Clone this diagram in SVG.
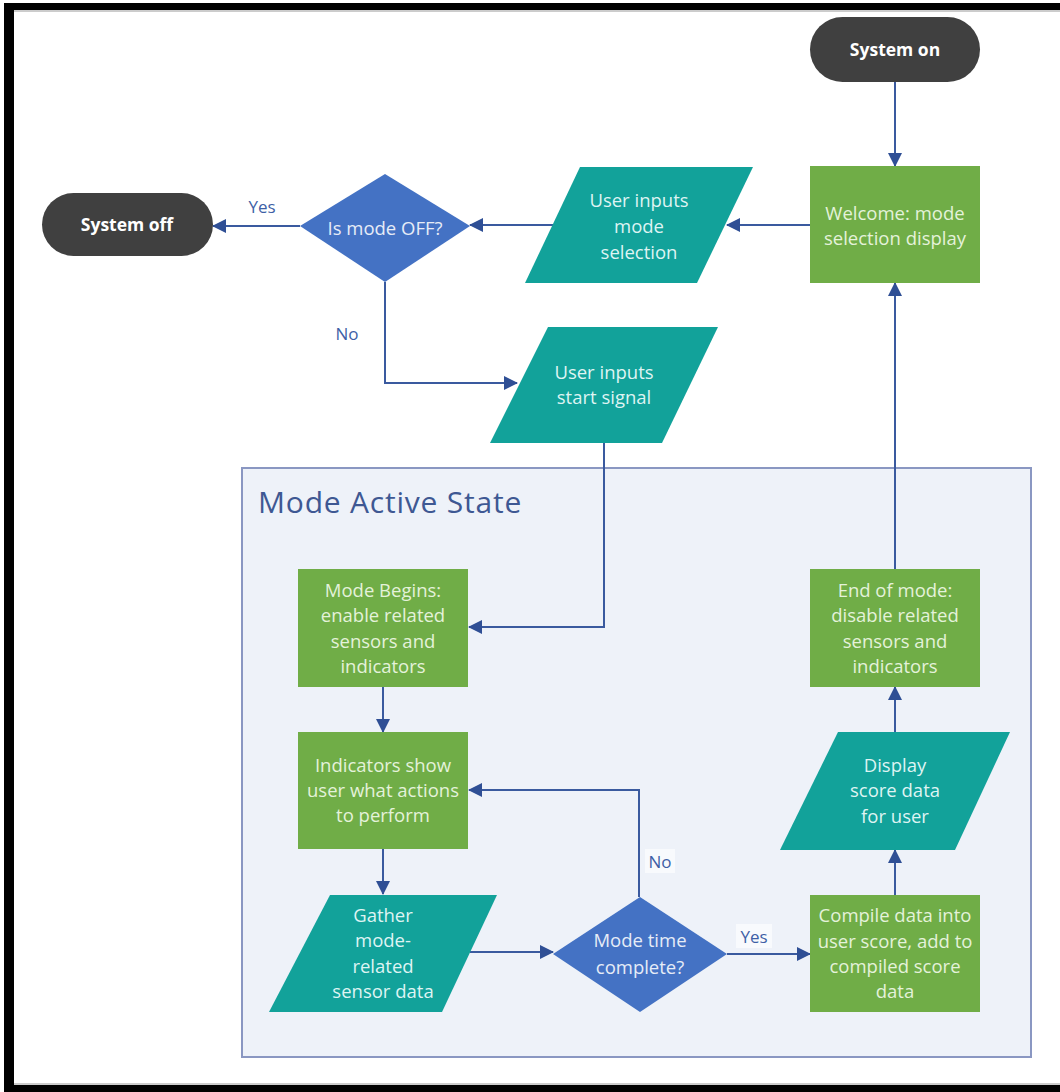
<svg xmlns="http://www.w3.org/2000/svg" width="1060" height="1092" viewBox="0 0 1060 1092">
<style>
  .term{fill:#404040}
  .termt{fill:#ffffff;font-family:"Open Sans","Liberation Sans",sans-serif;font-weight:bold;font-size:17.5px;text-anchor:middle}
  .proc{fill:#70ad47}
  .proct{fill:#e4f2da;font-family:"Open Sans","Liberation Sans",sans-serif;font-size:18.5px;text-anchor:middle}
  .io{fill:#12a29a}
  .iot{fill:#def4f3;font-family:"Open Sans","Liberation Sans",sans-serif;font-size:18.5px;text-anchor:middle}
  .dec{fill:#4472c4}
  .dect{fill:#e6ecf7;font-family:"Open Sans","Liberation Sans",sans-serif;font-size:18.5px;text-anchor:middle}
  .conn{fill:none;stroke:#3a5a9f;stroke-width:2;marker-end:url(#ah)}
  .lbl{fill:#3e5fa6;font-family:"Open Sans","Liberation Sans",sans-serif;font-size:17px;text-anchor:middle}
</style>
<defs>
  <marker id="ah" markerUnits="userSpaceOnUse" markerWidth="14" markerHeight="14" viewBox="0 0 14 14" refX="13" refY="7" orient="auto">
    <path d="M0,0 L14,7 L0,14 Z" fill="#2f4f95"/>
  </marker>
</defs>
<rect x="0" y="0" width="1060" height="1092" fill="#ffffff"/>
<!-- frame -->
<rect x="4" y="3" width="1056" height="7" fill="#000"/>
<rect x="4" y="3" width="10" height="1089" fill="#000"/>
<rect x="4" y="1085" width="1056" height="7" fill="#000"/>
<line x1="14" y1="11" x2="1060" y2="11" stroke="#999" stroke-width="1"/>
<line x1="14" y1="1084" x2="1060" y2="1084" stroke="#999" stroke-width="1"/>

<g id="container">
  <rect x="242" y="468" width="789" height="589" fill="#eef2f9" stroke="#8a97c2" stroke-width="2"/>
  <text x="258" y="513" fill="#3e5893" font-family="Open Sans, Liberation Sans, sans-serif" font-size="30" letter-spacing="0.8">Mode Active State</text>
</g>

<g id="connectors">
  <path class="conn" d="M895,82 V166"/>
  <path class="conn" d="M810,225 H727"/>
  <path class="conn" d="M553,225 H470"/>
  <path class="conn" d="M300,226 H213"/>
  <path class="conn" d="M385,282 V383 H517"/>
  <path class="conn" d="M604,443 V627 H469"/>
  <path class="conn" d="M383,687 V732"/>
  <path class="conn" d="M383,849 V894"/>
  <path class="conn" d="M470,952 H553"/>
  <path class="conn" d="M639,897 V790 H469"/>
  <path class="conn" d="M727,954 H810"/>
  <path class="conn" d="M895,895 V850"/>
  <path class="conn" d="M895,732 V687"/>
  <path class="conn" d="M895,569 V283"/>
  <text class="lbl" x="262" y="213">Yes</text>
  <text class="lbl" x="347" y="340">No</text>
  <rect x="645" y="849" width="30" height="24" fill="#f8fafd"/>
  <text class="lbl" x="660" y="868">No</text>
  <rect x="736" y="924" width="36" height="24" fill="#f8fafd"/>
  <text class="lbl" x="754" y="943">Yes</text>
</g>

<g id="system-on">
  <rect class="term" x="810" y="17" width="170" height="65" rx="32.5"/>
  <text class="termt" x="895" y="56">System on</text>
</g>
<g id="welcome">
  <rect class="proc" x="810" y="166" width="170" height="117"/>
  <text class="proct" x="895" y="220">Welcome: mode</text>
  <text class="proct" x="895" y="245">selection display</text>
</g>
<g id="user-inputs-mode">
  <polygon class="io" points="580,167 753,167 697,283 525,283"/>
  <text class="iot" x="639" y="207">User inputs</text>
  <text class="iot" x="639" y="233">mode</text>
  <text class="iot" x="639" y="259">selection</text>
</g>
<g id="is-mode-off">
  <polygon class="dec" points="385,174 470,226 385,282 300,226"/>
  <text class="dect" x="385" y="235">Is mode OFF?</text>
</g>
<g id="system-off">
  <rect class="term" x="42" y="193" width="171" height="63" rx="31.5"/>
  <text class="termt" x="127" y="231">System off</text>
</g>
<g id="user-inputs-start">
  <polygon class="io" points="548,327 718,327 662,443 490,443"/>
  <text class="iot" x="604" y="379">User inputs</text>
  <text class="iot" x="604" y="404">start signal</text>
</g>
<g id="mode-begins">
  <rect class="proc" x="298" y="569" width="170" height="118"/>
  <text class="proct" x="383" y="597">Mode Begins:</text>
  <text class="proct" x="383" y="622">enable related</text>
  <text class="proct" x="383" y="648">sensors and</text>
  <text class="proct" x="383" y="673">indicators</text>
</g>
<g id="indicators-show">
  <rect class="proc" x="298" y="732" width="170" height="117"/>
  <text class="proct" x="383" y="772">Indicators show</text>
  <text class="proct" x="383" y="797">user what actions</text>
  <text class="proct" x="383" y="822">to perform</text>
</g>
<g id="gather">
  <polygon class="io" points="330,895 497,895 442,1012 269,1012"/>
  <text class="iot" x="383" y="922">Gather</text>
  <text class="iot" x="383" y="947">mode-</text>
  <text class="iot" x="383" y="973">related</text>
  <text class="iot" x="383" y="998">sensor data</text>
</g>
<g id="mode-time-complete">
  <polygon class="dec" points="640,897 727,954 640,1012 553,954"/>
  <text class="dect" x="640" y="947">Mode time</text>
  <text class="dect" x="640" y="974">complete?</text>
</g>
<g id="compile">
  <rect class="proc" x="810" y="895" width="170" height="117"/>
  <text class="proct" x="895" y="922">Compile data into</text>
  <text class="proct" x="895" y="948">user score, add to</text>
  <text class="proct" x="895" y="973">compiled score</text>
  <text class="proct" x="895" y="998">data</text>
</g>
<g id="display-score">
  <polygon class="io" points="838,732 1010,732 955,850 780,850"/>
  <text class="iot" x="895" y="772">Display</text>
  <text class="iot" x="895" y="797">score data</text>
  <text class="iot" x="895" y="823">for user</text>
</g>
<g id="end-of-mode">
  <rect class="proc" x="810" y="569" width="170" height="118"/>
  <text class="proct" x="895" y="597">End of mode:</text>
  <text class="proct" x="895" y="622">disable related</text>
  <text class="proct" x="895" y="648">sensors and</text>
  <text class="proct" x="895" y="673">indicators</text>
</g>
</svg>
